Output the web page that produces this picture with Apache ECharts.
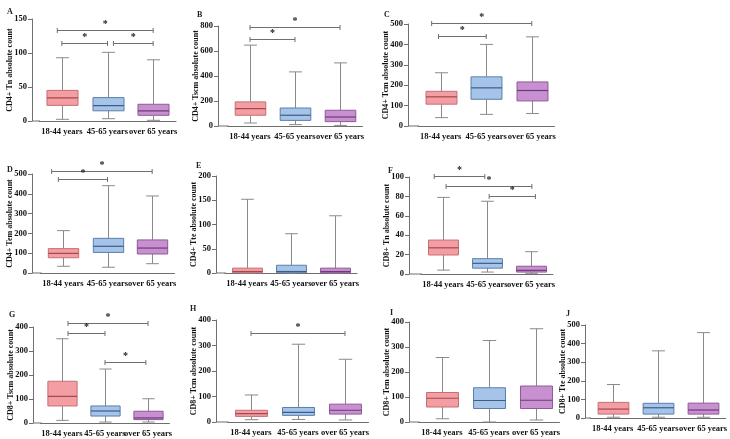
<!DOCTYPE html>
<html>
<head>
<meta charset="utf-8">
<title>T cell subset absolute counts by age group</title>
<script src="https://cdn.jsdelivr.net/npm/echarts@6/dist/echarts.min.js"></script>
<style>
  html, body { margin: 0; padding: 0; background: #fff; }
  #chart { width: 730px; height: 439px; }
</style>
</head>
<body>
<div id="chart"></div>
<script>
const ageGroups = ["18-44 years", "45-65 years", "over 65 years"];

// [min, Q1, median, Q3, max] per age group
const cd4TnBoxes = [[2.5, 23, 34, 45, 93], [3.4, 15, 22.6, 34.4, 101], [1, 8.4, 14.8, 24.6, 90]];
const cd4TscmBoxes = [[24, 86, 139, 193, 647], [11, 45, 86, 144, 433], [5, 35, 72, 126, 505]];
const cd4TcmBoxes = [[41, 107, 143, 170, 261], [57, 131, 187, 241, 400], [61, 123, 174, 216, 437]];
const cd4TemBoxes = [[34, 77, 99, 123, 214], [29, 104, 135, 175, 441], [47, 96, 126, 167, 389]];
const cd4TteBoxes = [[0, 0.5, 3, 10, 152], [0, 0.5, 3, 16, 81], [0, 0.5, 3, 10, 118]];
const cd8TnBoxes = [[4, 19.6, 27, 35, 79], [2, 6, 11, 15.8, 75], [0.7, 2, 3.8, 8, 23]];
const cd8TscmBoxes = [[11, 71, 111, 174, 351], [4, 29, 50, 71, 225], [4, 14, 21, 49, 101]];
const cd8TcmBoxes = [[9, 22, 33, 46, 106], [10, 26, 38, 57, 305], [8, 31, 46, 70, 246]];
const cd8TemBoxes = [[13, 60, 95, 118, 258], [0, 54, 86, 137, 326], [8, 54, 87, 144, 373]];
const cd8TteBoxes = [[4, 21, 48, 84, 180], [4, 21, 55, 79, 361], [4, 21, 43, 80, 459]];

// significance brackets: [from group, to group, height]
const cd4TnSig = [[-0.1, 2, 134], [0, 1, 115], [1.13, 2, 115]];
const cd4TscmSig = [[0, 2, 794], [0, 1, 695]];
const cd4TcmSig = [[-0.2, 2, 503], [-0.05, 1, 443]];
const cd4TemSig = [[-0.25, 2, 517], [-0.1, 1, 473]];
const cd8TnSig = [[-0.2, 0.95, 100.7], [0.07, 2.02, 90.4], [1.05, 2.1, 80.8]];
const cd8TscmSig = [[0.14, 2, 417], [0.14, 1, 374], [1, 1.95, 254]];
const cd8TcmSig = [[0, 2, 348]];

// y tick labels
const ticks150 = [0, 50, 100, 150];
const ticks200 = [0, 50, 100, 150, 200];
const ticks100 = [0, 20, 40, 60, 80, 100];
const ticks400 = [0, 100, 200, 300, 400];
const ticks500 = [0, 100, 200, 300, 400, 500];
const ticks800 = [0, 200, 400, 600, 800];

const panels = [
  { letter: "A", name: "CD4+ Tn absolute count", boxes: cd4TnBoxes, sig: cd4TnSig, ticks: ticks150,
    pos: { left: 39, top: 19, width: 137, height: 102, gap: 7, lx: 2, ly: 3 } },
  { letter: "B", name: "CD4+ Tscm absolute count", boxes: cd4TscmBoxes, sig: cd4TscmSig, ticks: ticks800,
    pos: { left: 227.5, top: 26, width: 135, height: 100, gap: 9.5, lx: 192, ly: 6 } },
  { letter: "C", name: "CD4+ Tcm absolute count", boxes: cd4TcmBoxes, sig: cd4TcmSig, ticks: ticks500,
    pos: { left: 418, top: 24, width: 136.5, height: 102, gap: 10, lx: 379, ly: 6 } },
  { letter: "D", name: "CD4+ Tem absolute count", boxes: cd4TemBoxes, sig: cd4TemSig, ticks: ticks500,
    pos: { left: 40.5, top: 174, width: 134, height: 99, gap: 8.5, lx: 2, ly: 161 } },
  { letter: "E", name: "CD4+ Tte absolute count", boxes: cd4TteBoxes, sig: [], ticks: ticks200,
    pos: { left: 225, top: 176, width: 132, height: 97, gap: 9, lx: 191, ly: 157 } },
  { letter: "F", name: "CD8+ Tn absolute count", boxes: cd8TnBoxes, sig: cd8TnSig, ticks: ticks100,
    pos: { left: 421, top: 177, width: 132, height: 97, gap: 12, lx: 383, ly: 162 } },
  { letter: "G", name: "CD8+ Tscm absolute count", boxes: cd8TscmBoxes, sig: cd8TscmSig, ticks: ticks400,
    pos: { left: 40.5, top: 327, width: 129, height: 96, gap: 7.5, lx: 4, ly: 306 } },
  { letter: "H", name: "CD8+ Tcm absolute count", boxes: cd8TcmBoxes, sig: cd8TcmSig, ticks: ticks400,
    pos: { left: 227.5, top: 320, width: 141, height: 102, gap: 11.5, lx: 185, ly: 300 } },
  { letter: "I", name: "CD8+ Tem absolute count", boxes: cd8TemBoxes, sig: [], ticks: ticks400,
    pos: { left: 418.5, top: 322, width: 141, height: 100, gap: 9.5, lx: 385, ly: 304 } },
  { letter: "J", name: "CD8+ Tte absolute count", boxes: cd8TteBoxes, sig: [], ticks: ticks500,
    pos: { left: 590, top: 325, width: 136.5, height: 93, gap: 5, lx: 561, ly: 305 } }
];

const serif = '"Liberation Serif", "Times New Roman", serif';
const axisGray = "#6f6f6f";
const whiskerGray = "#8a8a8a";
const boxColors = [
  { fill: "#f29ea3", border: "#c66f75", median: "#a6464f" },
  { fill: "#a6c4ea", border: "#5b7fa8", median: "#3b5d86" },
  { fill: "#c890d1", border: "#8f5a98", median: "#6c3b77" }
];

function makeBoxRenderer(gap) {
  return function (params, api) {
    const k = api.value(0);
    const cx = Math.round(api.coord([k, 0])[0]) + 0.5;
    const y = (v) => api.coord([k, v])[1];
    const yMin = y(api.value(1)), yQ1 = y(api.value(2)), yMed = y(api.value(3));
    const yQ3 = y(api.value(4)), yMax = y(api.value(5));
    const band = api.size([1, 0])[0];
    const bw = band * 0.68;
    const cw = bw * 0.42;
    const c = boxColors[k];
    const wStyle = { stroke: whiskerGray, lineWidth: 1 };
    const children = [
      { type: "line", shape: { x1: cx, y1: yMax, x2: cx, y2: yQ3 }, style: wStyle },
      { type: "line", shape: { x1: cx, y1: yQ1, x2: cx, y2: yMin }, style: wStyle },
      { type: "line", shape: { x1: cx - cw / 2, y1: yMax, x2: cx + cw / 2, y2: yMax }, style: wStyle },
      { type: "line", shape: { x1: cx - cw / 2, y1: yMin, x2: cx + cw / 2, y2: yMin }, style: wStyle },
      { type: "rect", shape: { x: cx - bw / 2, y: yQ3, width: bw, height: yQ1 - yQ3 },
        style: { fill: c.fill, stroke: c.border, lineWidth: 1 } },
      { type: "line", shape: { x1: cx - bw / 2, y1: yMed, x2: cx + bw / 2, y2: yMed },
        style: { stroke: c.median, lineWidth: 1.2 } }
    ];
    if (params.dataIndex === 0) {
      // join the x axis line to the offset y axis
      const x0 = api.coord([0, 0])[0] - band / 2;
      const y0 = api.coord([0, 0])[1];
      children.push({ type: "line", shape: { x1: x0 - gap, y1: y0, x2: x0 + 1, y2: y0 },
        style: { stroke: axisGray, lineWidth: 1 } });
    }
    return { type: "group", children };
  };
}

function renderBracket(params, api) {
  const from = api.value(0), to = api.value(1), h = api.value(2);
  const p0 = api.coord([0, h]);
  const band = api.size([1, 0])[0];
  const xa = p0[0] + from * band;
  const xb = p0[0] + to * band;
  const yy = Math.round(p0[1]) + 0.5;
  const st = { stroke: axisGray, lineWidth: 1 };
  return {
    type: "group",
    children: [
      { type: "line", shape: { x1: xa, y1: yy, x2: xb, y2: yy }, style: st },
      { type: "line", shape: { x1: xa, y1: yy - 2.5, x2: xa, y2: yy + 2.5 }, style: st },
      { type: "line", shape: { x1: xb, y1: yy - 2.5, x2: xb, y2: yy + 2.5 }, style: st },
      { type: "text", x: (xa + xb) / 2, y: yy - 1,
        style: { text: "*", fill: "#222", font: "bold 10px " + serif, align: "center", verticalAlign: "bottom" } }
    ]
  };
}

const option = { animation: false, title: [], grid: [], xAxis: [], yAxis: [], series: [] };

panels.forEach((p, i) => {
  const t = p.ticks;
  option.title.push({
    text: p.letter, left: p.pos.lx, top: p.pos.ly,
    textStyle: { fontFamily: serif, fontWeight: "bold", fontSize: 8, color: "#222" }
  });
  option.grid.push({ left: p.pos.left, top: p.pos.top, width: p.pos.width, height: p.pos.height });
  option.xAxis.push({
    type: "category", gridIndex: i, data: ageGroups,
    axisLine: { lineStyle: { color: axisGray } },
    axisTick: { show: false },
    axisLabel: { interval: 0, margin: 6, color: "#111", fontFamily: serif, fontWeight: "bold", fontSize: 8.5 }
  });
  option.yAxis.push({
    type: "value", gridIndex: i, min: t[0], max: t[t.length - 1], interval: t[1] - t[0],
    offset: p.pos.gap,
    name: p.name, nameLocation: "middle", nameGap: 18, nameMoveOverlap: false,
    nameTextStyle: { fontFamily: serif, fontWeight: "bold", fontSize: 8, color: "#111" },
    axisLine: { show: true, lineStyle: { color: axisGray } },
    axisTick: { show: true, length: 4, lineStyle: { color: axisGray } },
    splitLine: { show: false },
    axisLabel: { margin: 5, color: "#111", fontFamily: serif, fontWeight: "bold", fontSize: 8.5 }
  });
  option.series.push({
    type: "custom", name: p.letter + " boxes", xAxisIndex: i, yAxisIndex: i, clip: false,
    encode: { x: 0, y: [1, 2, 3, 4, 5] },
    data: p.boxes.map((b, k) => [k].concat(b)),
    renderItem: makeBoxRenderer(p.pos.gap)
  });
  if (p.sig.length) {
    option.series.push({
      type: "custom", name: p.letter + " significance", xAxisIndex: i, yAxisIndex: i, clip: false,
      encode: { x: 0, y: 2 },
      data: p.sig,
      renderItem: renderBracket
    });
  }
});

const chart = echarts.init(document.getElementById("chart"));
chart.setOption(option);
</script>
</body>
</html>
